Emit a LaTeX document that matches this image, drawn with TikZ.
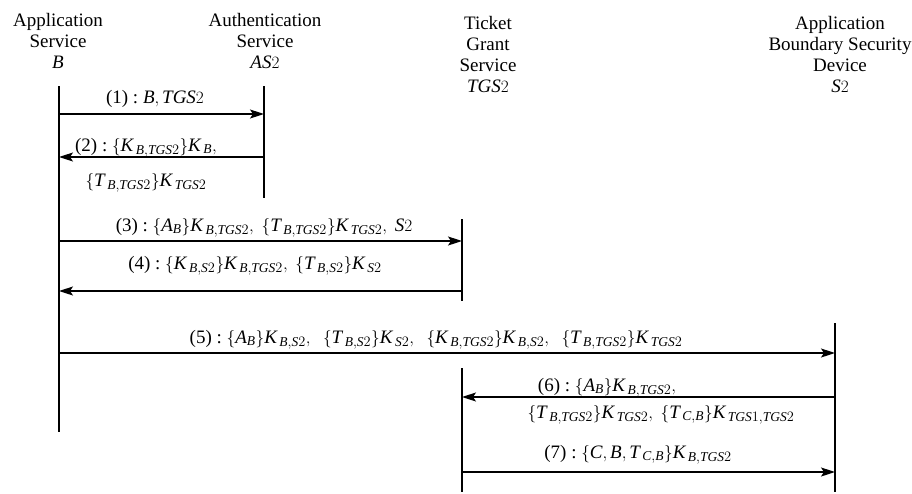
\documentclass[tikz,border=0pt]{standalone}
\usepackage{fontspec}
\setmainfont{Liberation Serif}
\usetikzlibrary{arrows.meta}

% digits, parentheses and colons in formulas come from the main font
\DeclareSymbolFont{operators}{TU}{\rmdefault}{m}{n}
\DeclareMathSizes{19}{19}{13.5}{10}

% italic letters in the main font
\newcommand{\vi}[1]{\mathit{#1}}
\newcommand{\Kx}[1]{\vi{K}_{\kern2.5pt#1}}
\newcommand{\Tx}[1]{\vi{T}_{\kern2.5pt#1}}
\newcommand{\AB}{\vi{A}_{\vi{B}}}
\newcommand{\BT}{\vi{B,TGS}2}
\newcommand{\BS}{\vi{B,S}2}
\newcommand{\TG}{\vi{TGS}2}
\newcommand{\Ss}{\vi{S}2}
\newcommand{\CB}{\vi{C,B}}
\newcommand{\cs}{,\;}
\newcommand{\csw}{,\;\;}
% message number in front of a formula
\newcommand{\msgno}[1]{(#1)\ :\ }

\begin{document}
\begin{tikzpicture}[x=1pt,y=-1pt,
  lifeline/.style={line width=1.4pt},
  msg/.style={line width=1.3pt,-{Stealth[length=14pt,width=9pt,inset=3pt]}},
  head/.style={align=center,inner sep=0pt,anchor=north,
    font=\fontsize{19}{21}\selectfont},
  lbl/.style={inner sep=0pt,anchor=base,font=\fontsize{19}{21}\selectfont}]
\useasboundingbox (0,0) rectangle (912,493);

% participants
\node[head] (hB)   at (58,13.5)  {Application\\Service\\$\vi{B}$};
\node[head] (hAS)  at (265,13.5) {Authentication\\Service\\$\vi{AS}2$};
\node[head] (hTGS) at (488,16.5) {Ticket\\Grant\\Service\\$\TG$};
\node[head] (hS)   at (840,16.5) {Application\\Boundary Security\\Device\\$\Ss$};

% lifelines
\coordinate (Btop) at (59,86);   \coordinate (Bbot) at (59,432);
\coordinate (Atop) at (264,86);  \coordinate (Abot) at (264,198);
\coordinate (Gtop) at (462,219); \coordinate (Gmid) at (462,301);
\coordinate (Gre)  at (462,368); \coordinate (Gbot) at (462,492);
\coordinate (Stop) at (835,323); \coordinate (Sbot) at (835,492);
\draw[lifeline] (Btop) -- (Bbot);
\draw[lifeline] (Atop) -- (Abot);
\draw[lifeline] (Gtop) -- (Gmid);
\draw[lifeline] (Gre) -- (Gbot);
\draw[lifeline] (Stop) -- (Sbot);

% message end points
\coordinate (B1) at (59,114);  \coordinate (A1) at (264,114);
\coordinate (B2) at (59,157);  \coordinate (A2) at (264,157);
\coordinate (B3) at (59,241);  \coordinate (G3) at (462,241);
\coordinate (B4) at (59,291);  \coordinate (G4) at (462,291);
\coordinate (B5) at (59,353);  \coordinate (S5) at (835,353);
\coordinate (G6) at (462,397); \coordinate (S6) at (835,397);
\coordinate (G7) at (462,472); \coordinate (S7) at (835,472);

% messages
\draw[msg] (B1) -- (A1);
\draw[msg] (A2) -- (B2);
\draw[msg] (B3) -- (G3);
\draw[msg] (G4) -- (B4);
\draw[msg] (B5) -- (S5);
\draw[msg] (S6) -- (G6);
\draw[msg] (G7) -- (S7);

% message contents
\node[lbl] (m1)  at (155,103) {\msgno{1}$\vi{B},\TG$};
\node[lbl] (m2a) at (146,151) {\msgno{2}$\{\Kx{\BT}\}\Kx{\vi{B}},$};
\node[lbl] (m2b) at (146,186) {$\{\Tx{\BT}\}\Kx{\TG}$};
\node[lbl] (m3)  at (264,231) {\msgno{3}$\{\AB\}\Kx{\BT}\cs\{\Tx{\BT}\}\Kx{\TG}\cs\Ss$};
\node[lbl] (m4)  at (255,269) {\msgno{4}$\{\Kx{\BS}\}\Kx{\BT}\cs\{\Tx{\BS}\}\Kx{\Ss}$};
\node[lbl] (m5)  at (436,343) {\msgno{5}$\{\AB\}\Kx{\BS}\csw\{\Tx{\BS}\}\Kx{\Ss}\csw\{\Kx{\BT}\}\Kx{\BS}\csw\{\Tx{\BT}\}\Kx{\TG}$};
\node[lbl] (m6a) at (607,391) {\msgno{6}$\{\AB\}\Kx{\BT},$};
\node[lbl] (m6b) at (661,418) {$\{\Tx{\BT}\}\Kx{\TG}\cs\{\Tx{\CB}\}\Kx{\vi{TGS}1,\vi{TGS}2}$};
\node[lbl] (m7)  at (638,458) {\msgno{7}$\{\vi{C},\vi{B},\Tx{\CB}\}\Kx{\BT}$};
\end{tikzpicture}
\end{document}
